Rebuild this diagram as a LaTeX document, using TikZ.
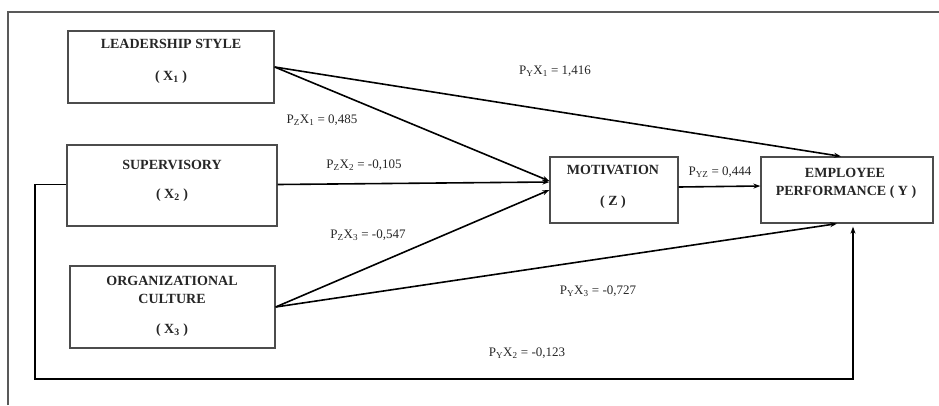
\documentclass[tikz,border=0pt]{standalone}
\usepackage{fontspec}
\setmainfont{Liberation Serif}
\usetikzlibrary{arrows.meta,calc}
\begin{document}
\begin{tikzpicture}[x=1pt,y=-1pt,
  box/.style={draw=black!70,line width=1.3pt,inner sep=0pt,fill=white},
  btxt/.style={font=\fontsize{14}{16}\selectfont\bfseries,text=black!85,inner sep=0pt},
  lbl/.style={font=\fontsize{13}{15}\selectfont,text=black!85,inner sep=0pt},
  arr/.style={line width=1.6pt,-{Stealth[length=7pt,width=5pt]}},
  frame/.style={draw=black!65,line width=1.2pt}]
\useasboundingbox (0,0) rectangle (939,405);
% outer frame (open at right and bottom)
\coordinate (fr1) at (8,405);
\coordinate (fr2) at (8,12);
\coordinate (fr3) at (939,12);
\draw[frame] (fr1) -- (fr2) -- (fr3);
% boxes
\node[box,minimum width=206pt,minimum height=72pt] (x1) at (171,67) {};
\node[box,minimum width=210pt,minimum height=81pt] (x2) at (172,185.5) {};
\node[box,minimum width=205pt,minimum height=82pt] (x3) at (172.5,307) {};
\node[box,minimum width=128pt,minimum height=66pt] (z) at (614,190) {};
\node[box,minimum width=172pt,minimum height=66pt] (y) at (847,190) {};
% box texts
\node[btxt] (t1a) at (171,44) {LEADERSHIP STYLE};
\node[btxt] (t1b) at (171,77) {( X\textsubscript{1} )};
\node[btxt] (t2a) at (172,165) {SUPERVISORY};
\node[btxt] (t2b) at (172,195) {( X\textsubscript{2} )};
\node[btxt] (t3a) at (172,281) {ORGANIZATIONAL};
\node[btxt] (t3b) at (172,299) {CULTURE};
\node[btxt] (t3c) at (172,330) {( X\textsubscript{3} )};
\node[btxt] (tza) at (613,170) {MOTIVATION};
\node[btxt] (tzb) at (613,202) {( Z )};
\node[btxt] (tya) at (845,173) {EMPLOYEE};
\node[btxt] (tyb) at (846,192) {PERFORMANCE ( Y )};
% connectors
\draw[arr] (x1.east) -- ([xshift=-6pt]y.north);
\draw[arr] (x1.east) -- ([yshift=9pt]z.west);
\draw[arr] ([yshift=1pt]x2.east) -- ([yshift=8pt]z.west);
\draw[arr] (x3.east) -- (z.west);
\draw[arr] (x3.east) -- ([xshift=-10pt]y.south);
\draw[arr] ([yshift=3pt]z.east) -- ([yshift=4pt]y.west);
\coordinate (lp) at (35,379);
\draw[line width=1.6pt,-{Stealth[length=7pt,width=5pt]}] ([yshift=1pt]x2.west) -| (lp) -| ([xshift=6pt,yshift=-3pt]y.south);
% labels
\node[lbl] (l1) at (555,71) {P\textsubscript{Y}X\textsubscript{1} = 1,416};
\node[lbl] (l2) at (322,120) {P\textsubscript{Z}X\textsubscript{1} = 0,485};
\node[lbl] (l3) at (364,165) {P\textsubscript{Z}X\textsubscript{2} = -0,105};
\node[lbl] (l4) at (368,235) {P\textsubscript{Z}X\textsubscript{3} = -0,547};
\node[lbl] (l5) at (720,172) {P\textsubscript{YZ} = 0,444};
\node[lbl] (l6) at (598,291) {P\textsubscript{Y}X\textsubscript{3} = -0,727};
\node[lbl] (l7) at (527,353) {P\textsubscript{Y}X\textsubscript{2} = -0,123};
\end{tikzpicture}
\end{document}
